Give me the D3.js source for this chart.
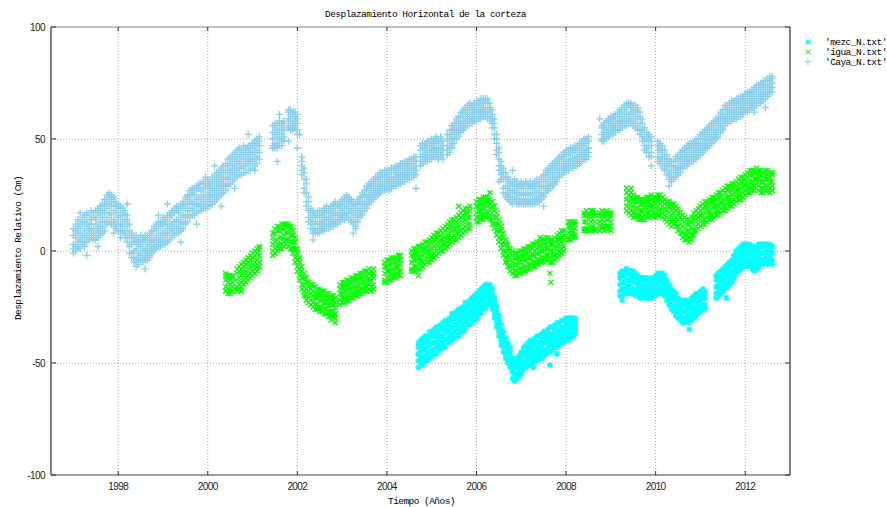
<!DOCTYPE html>
<html>
<head>
<meta charset="utf-8">
<script src="https://cdn.jsdelivr.net/npm/d3@7"></script>
<style>
  body { margin: 0; background: #fff; }
  svg { display: block; }
  .mono { font-family: 'Liberation Mono', 'DejaVu Sans Mono', monospace; font-size: 9.5px; letter-spacing: -0.55px; fill: #000; }
  .tick-label { font-family: 'Liberation Sans', Arial, sans-serif; font-size: 10px; letter-spacing: -0.6px; fill: #222; }
</style>
</head>
<body>
<div id="chart"></div>
<script>
// rows: [year, readings...] (cm)
const mezcRows = [
  [2004.70,-46,-49,-43,-52,-41],[2004.75,-45,-48,-42,-50,-40],[2004.80,-44,-47,-41,-51,-39],[2004.85,-44,-47,-41,-49,-38],
  [2004.90,-43,-46,-40,-49,-38],[2004.95,-42,-45,-39,-48,-36],[2005.00,-41,-44,-38,-47,-36],[2005.05,-41,-44,-38,-46,-35],
  [2005.10,-40,-43,-37,-46,-34],[2005.15,-39,-42,-36,-44,-34],[2005.20,-38,-41,-35,-44,-33],[2005.25,-38,-41,-35,-43,-32],
  [2005.30,-37,-40,-34,-43,-31],[2005.35,-36,-39,-33,-41,-31],[2005.40,-35,-38,-32,-41,-30],[2005.45,-34,-37,-31,-40,-28],
  [2005.50,-33,-36,-30,-39,-28],[2005.55,-33,-36,-30,-38,-27],[2005.60,-32,-35,-29,-38,-26],[2005.65,-31,-34,-28,-36,-26],
  [2005.70,-30,-33,-27,-36,-25],[2005.75,-29,-32,-26,-35,-23],[2005.80,-28,-31,-25,-33,-23],[2005.85,-27,-30,-24,-33,-22],
  [2005.90,-26,-29,-23,-31,-21],[2005.95,-25,-28,-22,-31,-20],[2006.00,-24,-27,-21,-30,-19],[2006.05,-23,-26,-20,-28,-18],
  [2006.10,-22,-25,-19,-28,-17],[2006.15,-21,-24,-18,-26,-16],[2006.20,-20,-23,-18,-26,-15],[2006.25,-19,-22,-17,-24,-15],
  [2006.30,-18,-21,-16,-23,-15],[2006.35,-21,-24,-19,-26,-17],[2006.40,-25,-28,-23,-30,-21],[2006.45,-29,-32,-27,-34,-25],
  [2006.50,-33,-36,-31,-38,-29],[2006.55,-37,-40,-35,-42,-33],[2006.60,-40,-43,-38,-45,-36],[2006.65,-43,-46,-41,-48,-39],
  [2006.70,-45,-48,-43,-50,-41],[2006.75,-47,-50,-45,-52,-43],[2006.80,-51,-54,-49,-57,-48],[2006.85,-52,-55,-50,-58,-49],
  [2006.90,-52,-55,-49,-57,-48],[2006.95,-51,-54,-48,-56,-47],[2007.00,-49,-52,-46,-55,-45],[2007.05,-47,-50,-45,-53,-43],
  [2007.10,-46,-49,-44,-52,-42],[2007.15,-46,-48,-43,-51,-41],[2007.20,-45,-48,-43,-51,-40],[2007.25,-45,-47,-42,-50,-40],
  [2007.30,-44,-47,-42,-49,-39],[2007.35,-44,-46,-41,-49,-38],[2007.40,-43,-46,-41,-48,-38],[2007.45,-42,-45,-40,-48,-37],
  [2007.50,-41,-44,-39,-47,-36],[2007.55,-41,-44,-38,-46,-36],[2007.60,-40,-43,-38,-45,-35],[2007.65,-40,-42,-37,-45,-34],
  [2007.70,-39,-42,-37,-44,-34],[2007.75,-38,-41,-36,-43,-33],[2007.80,-38,-40,-35,-43,-32],[2007.85,-37,-40,-35,-42,-32],
  [2007.90,-37,-39,-34,-41,-31],[2007.95,-36,-39,-34,-41,-31],[2008.00,-35,-38,-33,-40,-30],[2008.05,-35,-37,-32,-39,-30],
  [2008.10,-34,-37,-32,-39,-30],[2008.15,-34,-36,-32,-38,-30],[2008.20,-33,-35,-31,-37,-30],
  [2009.20,-15,-18,-12,-20,-10],[2009.25,-14,-17,-11,-20,-9],[2009.30,-14,-17,-11,-19,-9],[2009.35,-13,-16,-10,-19,-8],
  [2009.40,-13,-16,-10,-18,-9],[2009.45,-13,-16,-11,-19,-9],[2009.50,-14,-17,-11,-19,-9],[2009.55,-14,-17,-12,-20,-10],
  [2009.60,-15,-18,-12,-20,-11],[2009.65,-16,-19,-14,-21,-12],[2009.70,-16,-18,-13,-21,-12],[2009.75,-15,-18,-13,-20,-12],
  [2009.80,-16,-19,-13,-21,-12],[2009.85,-17,-19,-14,-21,-13],[2009.90,-16,-19,-14,-21,-12],[2009.95,-16,-18,-13,-20,-12],
  [2010.00,-15,-18,-13,-20,-11],[2010.05,-14,-17,-12,-19,-10],[2010.10,-13,-16,-11,-18,-10],[2010.15,-14,-17,-12,-19,-10],
  [2010.20,-15,-18,-13,-20,-11],[2010.25,-17,-20,-15,-22,-13],[2010.30,-19,-22,-17,-24,-15],[2010.35,-21,-24,-18,-26,-17],
  [2010.40,-22,-25,-20,-27,-18],[2010.45,-24,-27,-21,-29,-19],[2010.50,-25,-28,-22,-30,-21],[2010.55,-26,-29,-23,-31,-22],
  [2010.60,-27,-30,-24,-32,-23],[2010.65,-27,-30,-24,-32,-22],[2010.70,-26,-29,-24,-31,-22],[2010.75,-27,-30,-25,-32,-23],
  [2010.80,-26,-29,-23,-31,-21],[2010.85,-25,-28,-22,-30,-20],[2010.90,-24,-27,-21,-29,-19],[2010.95,-23,-26,-20,-28,-19],
  [2011.00,-22,-25,-20,-27,-18],[2011.05,-21,-24,-19,-26,-17],[2011.10,-21,-24,-19,-26,-18],
  [2011.35,-16,-19,-13,-21,-11],[2011.40,-15,-18,-12,-20,-10],[2011.45,-14,-17,-11,-19,-9],[2011.50,-13,-16,-10,-18,-8],
  [2011.55,-12,-15,-9,-17,-7],[2011.60,-11,-14,-8,-16,-6],[2011.65,-10,-13,-7,-15,-5],[2011.70,-9,-12,-6,-14,-4],
  [2011.75,-7,-10,-4,-12,-2],[2011.80,-5,-8,-2,-10,0],[2011.85,-4,-7,-1,-9,1],[2011.90,-3,-6,0,-8,2],
  [2011.95,-2,-5,1,-7,3],[2012.00,-1,-4,2,-6,3],[2012.05,-2,-5,1,-7,3],[2012.10,-1,-4,2,-6,3],
  [2012.15,-3,-6,0,-8,2],[2012.20,-4,-7,-1,-9,1],[2012.25,-3,-6,0,-8,2],[2012.30,-2,-5,1,-7,3],
  [2012.35,-1,-4,2,-6,3],[2012.40,-1,-4,2,-6,3],[2012.45,0,-3,3,-5,3],[2012.50,-1,-4,2,-6,3],
  [2012.55,0,-3,3,-5,2],[2012.60,-1,-4,2,-6,2]
];
const mezcOutliers = [[2007.27,-52],[2007.64,-51],[2007.79,-46],[2011.58,-21],[2010.75,-35],[2009.25,-22]];

const iguaRows = [
  [2000.40,-13,-16,-11,-18,-10],[2000.45,-14,-17,-12,-19,-11],[2000.50,-15,-12,-18,-19,-11],[2000.55,-14,-16,-12,-18,-11],
  [2000.65,-13,-16,-10,-18,-8],[2000.70,-12,-15,-9,-17,-7],[2000.75,-11,-14,-8,-16,-6],[2000.80,-10,-13,-7,-15,-5],
  [2000.85,-9,-12,-6,-14,-4],[2000.90,-8,-11,-5,-13,-3],[2000.95,-7,-10,-4,-12,-2],[2001.00,-6,-9,-3,-11,-1],
  [2001.05,-5,-8,-2,-10,0],[2001.10,-4,-7,-1,-9,1],[2001.15,-2,-5,1,-7,2],
  [2001.45,3,0,6,-2,8],[2001.50,4,1,8,-1,10],[2001.55,5,2,9,0,11],[2001.60,6,3,9,1,11],[2001.65,6,3,10,1,12],
  [2001.70,7,4,10,2,12],[2001.75,8,5,11,3,12],[2001.80,8,5,11,2,12],[2001.85,7,4,10,1,11],[2001.90,4,1,7,-1,9],
  [2001.95,1,-3,4,-5,6],[2002.00,-4,-7,-1,-9,1],[2002.05,-8,-11,-5,-13,-3],[2002.10,-12,-15,-9,-17,-7],
  [2002.15,-15,-18,-12,-20,-10],[2002.20,-17,-20,-14,-22,-12],[2002.25,-18,-21,-16,-23,-14],[2002.30,-19,-22,-17,-24,-15],
  [2002.35,-20,-23,-18,-25,-15],[2002.40,-21,-24,-19,-26,-16],[2002.45,-21,-24,-19,-26,-17],[2002.50,-22,-25,-20,-27,-17],
  [2002.55,-22,-25,-20,-27,-18],[2002.60,-23,-26,-21,-28,-18],[2002.65,-23,-26,-21,-28,-19],[2002.70,-24,-27,-21,-29,-19],
  [2002.75,-24,-27,-22,-29,-20],[2002.80,-24,-27,-22,-29,-20],[2002.85,-25,-28,-23,-30,-21],
  [2002.95,-19,-22,-17,-24,-15],[2003.00,-19,-21,-16,-23,-14],[2003.05,-18,-21,-16,-23,-14],[2003.10,-18,-20,-15,-22,-13],
  [2003.15,-17,-20,-15,-22,-13],[2003.20,-17,-19,-14,-21,-12],[2003.25,-16,-19,-14,-21,-12],[2003.30,-16,-18,-13,-20,-11],
  [2003.35,-15,-18,-13,-20,-11],[2003.40,-15,-17,-12,-19,-10],[2003.45,-14,-17,-12,-19,-10],[2003.50,-14,-16,-11,-18,-9],
  [2003.55,-13,-16,-11,-18,-9],[2003.60,-13,-15,-10,-17,-8],[2003.65,-13,-16,-11,-18,-9],[2003.70,-12,-15,-10,-17,-8],
  [2003.95,-10,-13,-7,-14,-5],[2004.00,-9,-12,-7,-14,-4],[2004.05,-9,-11,-6,-13,-4],[2004.10,-8,-11,-6,-13,-3],
  [2004.15,-8,-10,-5,-12,-3],[2004.20,-7,-10,-5,-12,-3],[2004.25,-7,-9,-4,-11,-2],[2004.30,-6,-9,-4,-11,-2],
  [2004.55,-5,-8,-2,-9,0],[2004.60,-4,-7,-2,-9,1],[2004.65,-4,-7,-1,-9,1],[2004.70,-3,-6,-1,-8,2],
  [2004.75,-3,-5,0,-8,2],[2004.80,-2,-5,1,-7,3],[2004.85,-1,-4,1,-6,4],[2004.90,0,-3,2,-5,4],
  [2004.95,0,-2,3,-5,5],[2005.00,1,-2,4,-4,6],[2005.05,2,-1,5,-3,7],[2005.10,3,0,6,-2,8],
  [2005.15,4,1,6,-1,8],[2005.20,5,2,7,0,9],[2005.25,5,3,8,0,10],[2005.30,6,3,9,1,11],
  [2005.35,7,4,10,2,12],[2005.40,8,5,11,3,13],[2005.45,9,6,11,4,14],[2005.50,10,7,12,5,14],
  [2005.55,10,8,13,5,15],[2005.60,11,8,14,6,16],[2005.65,12,9,15,7,17],[2005.70,13,10,16,8,18],
  [2005.75,14,11,17,9,19],[2005.80,15,12,17,10,19],[2005.85,15,12,18,10,20],
  [2006.00,17,15,20,13,22],[2006.05,18,15,20,13,23],[2006.10,18,16,21,14,23],[2006.15,19,16,21,14,24],
  [2006.20,19,17,22,15,24],[2006.25,20,17,22,15,24],[2006.30,19,16,21,14,23],[2006.35,17,14,20,12,22],
  [2006.40,15,12,18,10,20],[2006.45,12,9,15,7,17],[2006.50,9,6,12,4,14],[2006.55,6,3,9,1,11],
  [2006.60,3,0,6,-2,8],[2006.65,0,-3,3,-5,5],[2006.70,-2,-5,1,-7,3],[2006.75,-4,-7,-1,-9,1],
  [2006.80,-5,-8,-2,-10,0],[2006.85,-6,-9,-3,-11,-1],[2006.90,-6,-9,-3,-11,-1],[2006.95,-5,-8,-3,-10,0],
  [2007.00,-5,-8,-2,-10,0],[2007.05,-4,-7,-2,-9,1],[2007.10,-4,-7,-1,-9,1],[2007.15,-3,-6,-1,-8,2],
  [2007.20,-3,-6,0,-8,2],[2007.25,-2,-5,1,-7,3],[2007.30,-2,-5,0,-7,3],[2007.35,-1,-4,1,-6,4],
  [2007.40,-1,-4,2,-6,4],[2007.45,0,-3,2,-5,5],[2007.50,0,-3,3,-5,5],[2007.55,1,-2,3,-4,6],
  [2007.60,1,-2,4,-4,6],[2007.65,0,-3,3,-5,5],[2007.70,0,-2,3,-5,5],[2007.75,1,-2,4,-4,6],
  [2007.80,2,-1,5,-3,7],[2007.85,3,0,5,-2,8],[2007.90,4,1,6,-1,9],[2007.95,5,2,7,0,9],
  [2008.05,8,6,11,5,13],[2008.10,9,7,11,5,13],[2008.15,9,7,12,6,13],[2008.20,10,7,12,6,13],
  [2008.40,13,10,16,9,17],[2008.45,13,10,16,9,18],[2008.50,14,11,16,9,17],[2008.55,13,10,16,9,18],
  [2008.60,14,11,17,10,18],[2008.65,13,10,16,9,17],
  [2008.75,13,11,16,9,17],[2008.80,14,11,16,10,18],[2008.85,13,11,16,9,17],[2008.90,14,11,17,10,18],
  [2008.95,14,11,16,10,17],[2009.00,13,11,16,9,17],
  [2009.35,23,20,26,18,28],[2009.40,22,19,25,17,27],[2009.45,21,18,24,16,26],[2009.50,20,17,23,15,25],
  [2009.55,19,17,22,15,24],[2009.60,19,16,22,14,24],[2009.65,18,16,21,14,23],[2009.70,18,15,21,14,23],
  [2009.75,19,16,21,14,23],[2009.80,19,17,22,15,24],[2009.85,20,17,22,15,24],[2009.90,20,18,23,16,25],
  [2009.95,20,17,22,15,24],[2010.00,19,17,22,15,24],[2010.05,20,18,23,16,25],[2010.10,21,18,23,16,25],
  [2010.15,20,17,22,15,24],[2010.20,19,16,21,14,23],[2010.25,18,15,20,13,22],[2010.30,17,14,20,12,22],
  [2010.35,16,13,19,11,21],[2010.40,17,14,19,12,21],[2010.45,15,13,18,11,20],[2010.50,14,11,17,9,19],
  [2010.55,12,10,15,8,17],[2010.60,11,8,14,6,16],[2010.65,10,7,13,5,15],[2010.70,9,7,12,5,14],
  [2010.75,9,6,12,4,14],[2010.80,10,7,13,5,15],[2010.85,12,9,15,7,17],[2010.90,14,11,16,9,18],
  [2010.95,15,12,17,10,19],[2011.00,16,13,18,11,20],[2011.05,16,14,19,12,21],[2011.10,17,14,20,12,22],
  [2011.15,18,15,20,13,22],[2011.20,18,16,21,14,23],[2011.25,19,16,22,14,24],[2011.30,20,17,22,15,24],
  [2011.35,20,18,23,16,25],[2011.40,21,18,24,16,26],[2011.45,22,19,24,17,26],[2011.50,22,20,25,18,27],
  [2011.55,23,20,26,18,28],[2011.60,24,21,27,19,29],[2011.65,24,22,27,20,29],[2011.70,25,22,28,20,30],
  [2011.75,26,23,28,21,30],[2011.80,27,24,29,22,31],[2011.85,27,25,30,23,32],[2011.90,28,25,31,23,33],
  [2011.95,29,26,31,24,33],[2012.00,29,27,32,25,34],[2012.05,30,28,33,26,35],[2012.10,31,28,34,26,36],
  [2012.15,31,29,34,27,36],[2012.20,32,29,35,27,36],[2012.25,32,30,35,28,37],[2012.30,32,29,34,27,36],
  [2012.35,31,28,34,26,36],[2012.40,31,28,33,26,35],[2012.45,32,29,35,27,36],[2012.50,32,29,34,27,36],
  [2012.55,31,28,33,26,35],[2012.60,31,29,34,27,35]
];
const iguaOutliers = [[2000.65,-17],[2000.75,-18],[2002.75,-31],[2002.85,-32],[2007.42,6],[2007.64,-10],[2007.66,-14],
  [2009.45,28],[2012.60,27],[2004.70,-11],[2005.60,20],[2006.30,26]];

const cayaRows = [
  [1997.00,3,7,1,-1,10],[1997.05,6,2,9,0,12],[1997.10,8,4,11,2,14],[1997.15,5,10,7,1,13],
  [1997.20,12,7,4,3,15],[1997.25,9,13,6,2,16],[1997.30,11,7,14,4,17],[1997.35,8,12,10,5,16],
  [1997.40,14,9,12,6,18],[1997.45,10,15,7,5,17],[1997.50,12,8,14,5,18],[1997.55,11,16,9,6,19],
  [1997.60,13,10,17,7,20],[1997.65,15,11,18,8,21],[1997.70,17,13,20,9,23],[1997.75,19,15,22,12,25],
  [1997.80,21,17,24,13,26],[1997.85,20,16,23,12,25],[1997.90,18,22,14,11,24],[1997.95,17,13,20,10,22],
  [1998.00,15,19,12,9,21],[1998.05,16,12,19,9,20],[1998.10,14,17,11,8,19],[1998.15,13,9,16,6,18],
  [1998.20,11,7,14,4,16],[1998.25,6,2,9,-1,12],[1998.30,3,-1,6,-3,8],[1998.35,0,4,-3,-5,6],
  [1998.40,1,-3,4,-5,7],[1998.45,-1,3,-4,-6,5],[1998.50,2,-2,5,-4,7],[1998.55,0,4,-3,-5,6],
  [1998.60,1,-2,5,-4,7],[1998.65,-1,3,0,-4,6],[1998.70,2,5,-2,-3,8],[1998.75,4,1,7,-1,9],
  [1998.80,5,9,2,0,11],[1998.85,6,3,10,1,12],[1998.90,8,5,11,2,13],[1998.95,7,11,4,2,13],
  [1999.00,9,6,12,3,15],[1999.05,8,12,5,3,14],[1999.10,10,7,13,4,16],[1999.15,11,8,15,5,17],
  [1999.20,12,9,16,6,18],[1999.25,13,10,17,7,19],[1999.30,14,11,18,8,20],[1999.35,13,17,10,8,19],
  [1999.40,15,12,19,9,21],[1999.45,16,13,20,10,22],[1999.50,18,15,21,12,24],[1999.55,19,16,23,13,25],
  [1999.60,21,18,24,15,27],[1999.65,22,19,26,16,28],[1999.70,21,25,18,16,28],[1999.75,23,20,27,17,29],
  [1999.80,24,21,28,18,30],[1999.85,23,27,20,18,30],[1999.90,25,22,28,19,31],[1999.95,24,28,21,19,30],
  [2000.00,26,23,29,20,32],[2000.05,25,28,22,20,31],[2000.10,27,24,30,21,33],[2000.15,28,25,31,22,34],
  [2000.20,29,26,32,23,35],[2000.25,30,27,33,24,36],[2000.30,31,28,34,25,37],[2000.35,32,29,35,26,38],
  [2000.40,33,30,36,27,39],[2000.45,35,32,38,29,41],[2000.50,36,33,39,30,42],[2000.55,37,34,40,31,43],
  [2000.60,38,35,41,32,44],[2000.65,39,36,42,33,45],[2000.70,40,37,43,34,46],[2000.75,39,42,37,34,45],
  [2000.80,41,38,44,35,47],[2000.85,40,43,38,35,46],[2000.90,42,39,45,36,47],[2000.95,41,44,39,36,47],
  [2001.00,43,40,46,37,48],[2001.05,44,41,47,38,49],[2001.10,45,42,48,39,50],[2001.15,47,44,49,41,51],
  [2001.45,50,47,53,46,56],[2001.50,52,48,55,46,57],[2001.55,51,54,48,46,57],[2001.60,53,50,56,47,58],
  [2001.65,52,55,49,47,57],[2001.70,54,51,57,49,58],
  [2001.80,59,56,62,55,63],[2001.85,58,55,61,54,63],[2001.90,57,60,55,54,62],[2001.95,58,56,60,55,62],
  [2002.00,57,59,54,52,61],
  [2002.10,38,36,40,34,42],[2002.15,32,28,35,26,37],[2002.20,26,22,30,20,32],[2002.25,18,15,22,13,24],
  [2002.30,14,12,17,10,19],[2002.35,13,10,16,8,18],[2002.40,12,9,15,8,17],[2002.45,13,10,16,8,18],
  [2002.50,12,15,10,8,18],[2002.55,13,11,16,9,18],[2002.60,14,11,17,9,19],[2002.65,15,12,18,10,20],
  [2002.70,14,17,12,10,19],[2002.75,15,13,18,11,20],[2002.80,16,13,19,11,21],[2002.85,17,14,20,12,22],
  [2002.90,16,19,14,12,21],[2002.95,17,15,20,13,22],[2003.00,18,16,21,14,23],[2003.05,19,16,22,14,24],
  [2003.10,20,17,23,15,25],[2003.15,19,22,17,14,24],[2003.20,18,21,15,13,23],[2003.25,17,14,20,12,22],
  [2003.30,16,13,19,11,21],[2003.35,18,15,21,13,23],[2003.40,19,17,22,15,24],[2003.45,21,18,24,16,26],
  [2003.50,22,20,25,18,27],[2003.55,24,21,27,19,29],[2003.60,25,23,28,21,30],[2003.65,26,24,29,22,31],
  [2003.70,27,25,30,23,32],[2003.75,28,26,31,24,33],[2003.80,29,27,32,25,34],[2003.85,30,28,33,26,35],
  [2003.90,31,29,33,27,35],[2003.95,31,29,34,27,36],[2004.00,32,30,34,28,36],[2004.05,31,33,29,27,36],
  [2004.10,32,30,35,28,37],[2004.15,33,31,35,29,37],[2004.20,33,31,36,29,38],[2004.25,34,32,36,30,38],
  [2004.30,34,32,37,30,39],[2004.35,35,33,37,31,39],[2004.40,35,33,38,31,40],[2004.45,36,34,38,32,40],
  [2004.50,36,34,39,32,41],[2004.55,37,35,39,33,41],[2004.60,37,35,40,33,42],[2004.65,38,36,40,34,42],
  [2004.75,42,40,45,38,47],[2004.80,43,41,46,39,48],[2004.85,44,42,46,40,48],[2004.90,44,42,47,40,49],
  [2004.95,45,43,47,41,49],[2005.00,45,43,48,41,50],[2005.05,46,44,48,42,50],[2005.10,46,44,49,42,51],
  [2005.15,45,43,48,41,50],[2005.20,46,44,49,42,51],[2005.25,45,43,47,41,49],
  [2005.35,47,45,50,43,52],[2005.40,49,46,52,44,54],[2005.45,51,48,54,46,56],[2005.50,53,50,55,48,57],
  [2005.55,54,52,57,50,59],[2005.60,56,53,58,51,60],[2005.65,57,55,60,53,62],[2005.70,58,56,61,54,63],
  [2005.75,59,57,62,55,64],[2005.80,60,58,63,56,65],[2005.85,61,59,64,57,66],[2005.90,61,59,63,57,65],
  [2005.95,62,60,64,58,66],[2006.00,62,60,65,58,67],[2006.05,63,61,65,59,67],[2006.10,63,61,66,59,68],
  [2006.15,64,62,66,60,68],[2006.20,64,62,67,60,68],[2006.25,63,61,66,59,68],[2006.30,62,60,64,58,66],
  [2006.35,59,57,61,55,63],[2006.40,55,52,57,50,59],[2006.45,48,45,50,43,52],[2006.50,41,38,44,36,46],
  [2006.55,36,34,38,32,40],[2006.60,32,28,35,26,37],[2006.65,29,26,33,24,35],[2006.70,28,25,31,23,33],
  [2006.75,27,24,30,22,32],[2006.80,26,23,29,21,31],[2006.85,27,24,30,22,32],[2006.90,26,23,29,21,31],
  [2006.95,25,22,28,21,30],[2007.00,26,23,29,21,31],[2007.05,25,22,28,21,30],[2007.10,26,23,30,21,31],
  [2007.15,25,22,28,21,30],[2007.20,26,23,29,21,31],[2007.25,25,22,28,21,30],[2007.30,26,23,29,21,31],
  [2007.35,27,24,30,22,32],[2007.40,26,23,29,22,31],[2007.45,28,25,31,23,33],[2007.50,29,26,32,24,34],
  [2007.55,31,28,34,26,36],[2007.60,32,29,35,27,37],[2007.65,33,30,36,28,38],[2007.70,34,31,37,29,39],
  [2007.75,35,32,38,30,40],[2007.80,36,33,39,31,41],[2007.85,37,35,40,33,42],[2007.90,38,36,41,34,43],
  [2007.95,39,37,42,35,44],[2008.00,40,38,43,36,45],[2008.05,40,38,43,36,45],[2008.10,41,39,44,37,46],
  [2008.15,41,39,44,37,46],[2008.20,42,40,45,38,47],[2008.25,42,40,45,38,47],[2008.30,43,41,46,39,48],
  [2008.35,44,42,47,40,49],[2008.40,45,43,48,41,50],[2008.45,45,43,48,41,50],[2008.50,46,44,49,42,51],
  [2008.80,52,50,55,49,56],[2008.85,53,51,56,49,57],[2008.90,54,52,57,50,58],[2008.95,55,53,57,51,59],
  [2009.00,56,54,58,52,60],[2009.05,56,54,59,52,60],[2009.10,57,55,60,53,61],[2009.15,58,56,60,54,62],
  [2009.20,58,56,61,54,63],[2009.25,59,57,62,55,64],[2009.30,60,58,63,56,65],[2009.35,61,58,64,56,66],
  [2009.40,61,59,65,57,66],[2009.45,62,59,64,57,66],[2009.50,61,58,63,56,65],[2009.55,60,57,63,55,65],
  [2009.60,59,56,62,54,64],[2009.65,57,54,60,52,62],[2009.70,54,51,57,49,59],[2009.75,50,47,53,45,55],
  [2009.80,49,46,51,44,53],[2009.85,47,44,50,42,52],[2009.90,47,44,49,42,51],
  [2010.05,45,42,47,40,49],[2010.10,44,41,46,39,48],[2010.15,42,39,45,37,47],[2010.20,40,38,43,36,45],
  [2010.25,38,36,41,34,43],[2010.30,36,34,39,32,41],[2010.35,35,33,38,31,40],[2010.40,36,33,38,32,40],
  [2010.45,37,35,40,33,42],[2010.50,38,36,41,34,43],[2010.55,40,37,42,35,44],[2010.60,41,39,43,37,45],
  [2010.65,42,40,44,38,46],[2010.70,42,40,45,38,47],[2010.75,43,41,46,39,48],[2010.80,44,42,46,40,48],
  [2010.85,44,42,47,40,49],[2010.90,45,43,48,41,50],[2010.95,46,44,48,42,50],[2011.00,47,45,50,43,52],
  [2011.05,48,46,51,44,53],[2011.10,49,47,52,45,54],[2011.15,50,48,53,46,55],[2011.20,51,49,54,47,56],
  [2011.25,52,50,55,48,57],[2011.30,53,51,56,49,58],[2011.35,54,52,57,50,59],[2011.40,56,53,58,51,60],
  [2011.45,57,55,60,53,62],[2011.50,59,56,61,54,63],[2011.55,60,58,63,56,65],[2011.60,61,59,63,57,65],
  [2011.65,62,60,64,58,66],[2011.70,62,60,65,58,67],[2011.75,63,61,65,59,67],[2011.80,63,61,66,59,68],
  [2011.85,64,62,66,60,68],[2011.90,64,62,67,60,69],[2011.95,65,63,67,61,69],[2012.00,66,64,68,62,70],
  [2012.05,66,64,69,62,71],[2012.10,67,65,69,63,71],[2012.15,68,66,70,64,72],[2012.20,68,66,71,64,73],
  [2012.25,69,67,72,65,74],[2012.30,70,68,72,66,74],[2012.35,70,68,73,66,75],[2012.40,71,69,74,67,76],
  [2012.45,72,70,74,68,76],[2012.50,73,71,76,69,77],[2012.55,74,72,76,70,78],[2012.60,75,73,77,71,78]
];
const cayaOutliers = [[1997.30,-2],[1998.05,6],[1999.10,21],[2000.30,20],[1998.40,-7],[2001.05,36],
  [2001.80,49],[2001.55,40],[2002.00,46],[2003.25,8],[2003.30,10],[2002.35,5],[2004.65,28],[2006.50,31],
  [2009.90,38],[2008.75,59],[2010.30,29],[2012.20,62],[2012.45,64],[2007.50,20],[2006.80,36],
  [1997.15,17],[1997.55,2],[1998.90,16],[1999.40,4],[1999.75,12],[2000.15,38],[2000.60,28],
  [1998.60,-8],[1998.20,21],[1999.95,33],[2000.90,52],[1997.90,8],[2002.05,52],[2001.60,61]];

const xTicks = [1998, 2000, 2002, 2004, 2006, 2008, 2010, 2012];
const yTicks = [-100, -50, 0, 50, 100];
const seriesNames = ["'mezc_N.txt'", "'igua_N.txt'", "'Caya_N.txt'"];
const seriesColors = ['#00ffff', '#00ff00', '#87ceeb'];

const W = 887, H = 507;
const margin = { top: 27, right: 97, bottom: 32, left: 51 };
const width = W - margin.left - margin.right;
const height = H - margin.top - margin.bottom;

const svg = d3.select('#chart').append('svg').attr('width', W).attr('height', H);

const x = d3.scaleLinear().domain([1996.5, 2013]).range([0, width]);
const y = d3.scaleLinear().domain([-100, 100]).range([height, 0]);

const chart = svg.append('g')
  .attr('transform', 'translate(' + margin.left + ',' + margin.top + ')');

// dotted grid
chart.append('g').selectAll('line')
  .data(xTicks).enter().append('line')
  .attr('x1', d => x(d)).attr('x2', d => x(d))
  .attr('y1', 0).attr('y2', height)
  .attr('stroke', '#aaa').attr('stroke-dasharray', '1,2');
chart.append('g').selectAll('line')
  .data(yTicks.filter(d => d > -100 && d < 100)).enter().append('line')
  .attr('x1', 0).attr('x2', width)
  .attr('y1', d => y(d)).attr('y2', d => y(d))
  .attr('stroke', '#aaa').attr('stroke-dasharray', '1,2');

// point shapes: + for Caya, x for igua, * for mezc
const plusPath = 'M-3.5,0H3.5M0,-3.5V3.5';
const crossPath = 'M-2.5,-2.5L2.5,2.5M-2.5,2.5L2.5,-2.5';
const starPath = 'M-3,0H3M0,-3V3M-2.2,-2.2L2.2,2.2M-2.2,2.2L2.2,-2.2';

const toPoints = (rows, outliers) => {
  const pts = [];
  rows.forEach(r => r.slice(1).forEach(v => pts.push([r[0], v])));
  outliers.forEach(o => pts.push(o));
  return pts;
};

const series = [
  { points: toPoints(mezcRows, mezcOutliers), shape: starPath },
  { points: toPoints(iguaRows, iguaOutliers), shape: crossPath },
  { points: toPoints(cayaRows, cayaOutliers), shape: plusPath }
];

series.forEach((s, i) => {
  chart.append('g')
    .attr('class', 'series' + i)
    .selectAll('path')
    .data(s.points).enter().append('path')
    .attr('d', s.shape)
    .attr('transform', d => 'translate(' + x(d[0]).toFixed(1) + ',' + y(d[1]).toFixed(1) + ')')
    .attr('fill', 'none')
    .attr('stroke', seriesColors[i])
    .attr('stroke-width', 1.3);
});

// border
chart.append('line').attr('x1', 0).attr('x2', width).attr('y1', 0).attr('y2', 0).attr('stroke', '#808080');
chart.append('line').attr('x1', 0).attr('x2', width).attr('y1', height).attr('y2', height).attr('stroke', '#404040');
chart.append('line').attr('x1', 0).attr('x2', 0).attr('y1', 0).attr('y2', height).attr('stroke', '#808080').attr('stroke-width', 2);
chart.append('line').attr('x1', width).attr('x2', width).attr('y1', 0).attr('y2', height).attr('stroke', '#808080').attr('stroke-width', 2);

// inward ticks, mirrored
xTicks.forEach(t => {
  chart.append('line').attr('x1', x(t)).attr('x2', x(t)).attr('y1', height).attr('y2', height - 4).attr('stroke', '#333');
  chart.append('line').attr('x1', x(t)).attr('x2', x(t)).attr('y1', 0).attr('y2', 4).attr('stroke', '#333');
});
yTicks.forEach(t => {
  chart.append('line').attr('x1', 0).attr('x2', 5).attr('y1', y(t)).attr('y2', y(t)).attr('stroke', '#333');
  chart.append('line').attr('x1', width).attr('x2', width - 5).attr('y1', y(t)).attr('y2', y(t)).attr('stroke', '#333');
});

// tick labels
chart.append('g').selectAll('text')
  .data(xTicks).enter().append('text')
  .attr('class', 'tick-label')
  .attr('x', d => x(d)).attr('y', height + 15)
  .attr('text-anchor', 'middle')
  .text(d => d);
chart.append('g').selectAll('text')
  .data(yTicks).enter().append('text')
  .attr('class', 'tick-label')
  .attr('x', -6).attr('y', d => y(d) + 3.5)
  .attr('text-anchor', 'end')
  .text(d => d);

// titles
svg.append('text').attr('class', 'mono')
  .attr('x', 425.5).attr('y', 17).attr('text-anchor', 'middle')
  .text('Desplazamiento Horizontal de la corteza');
svg.append('text').attr('class', 'mono')
  .attr('x', 421.5).attr('y', 503.5).attr('text-anchor', 'middle')
  .text('Tiempo (Años)');
svg.append('text').attr('class', 'mono')
  .attr('text-anchor', 'middle')
  .attr('transform', 'translate(21,248) rotate(-90)')
  .text('Desplazamiento Relativo (Cm)');

// legend
const legend = svg.append('g').attr('transform', 'translate(808,42)');
seriesNames.forEach((name, i) => {
  const row = legend.append('g').attr('transform', 'translate(0,' + (i * 9.8) + ')');
  row.append('path')
    .attr('d', series[i].shape)
    .attr('fill', 'none')
    .attr('stroke', seriesColors[i]);
  row.append('text').attr('class', 'mono')
    .attr('x', 17).attr('y', 3.3)
    .text(name);
});
</script>
</body>
</html>
